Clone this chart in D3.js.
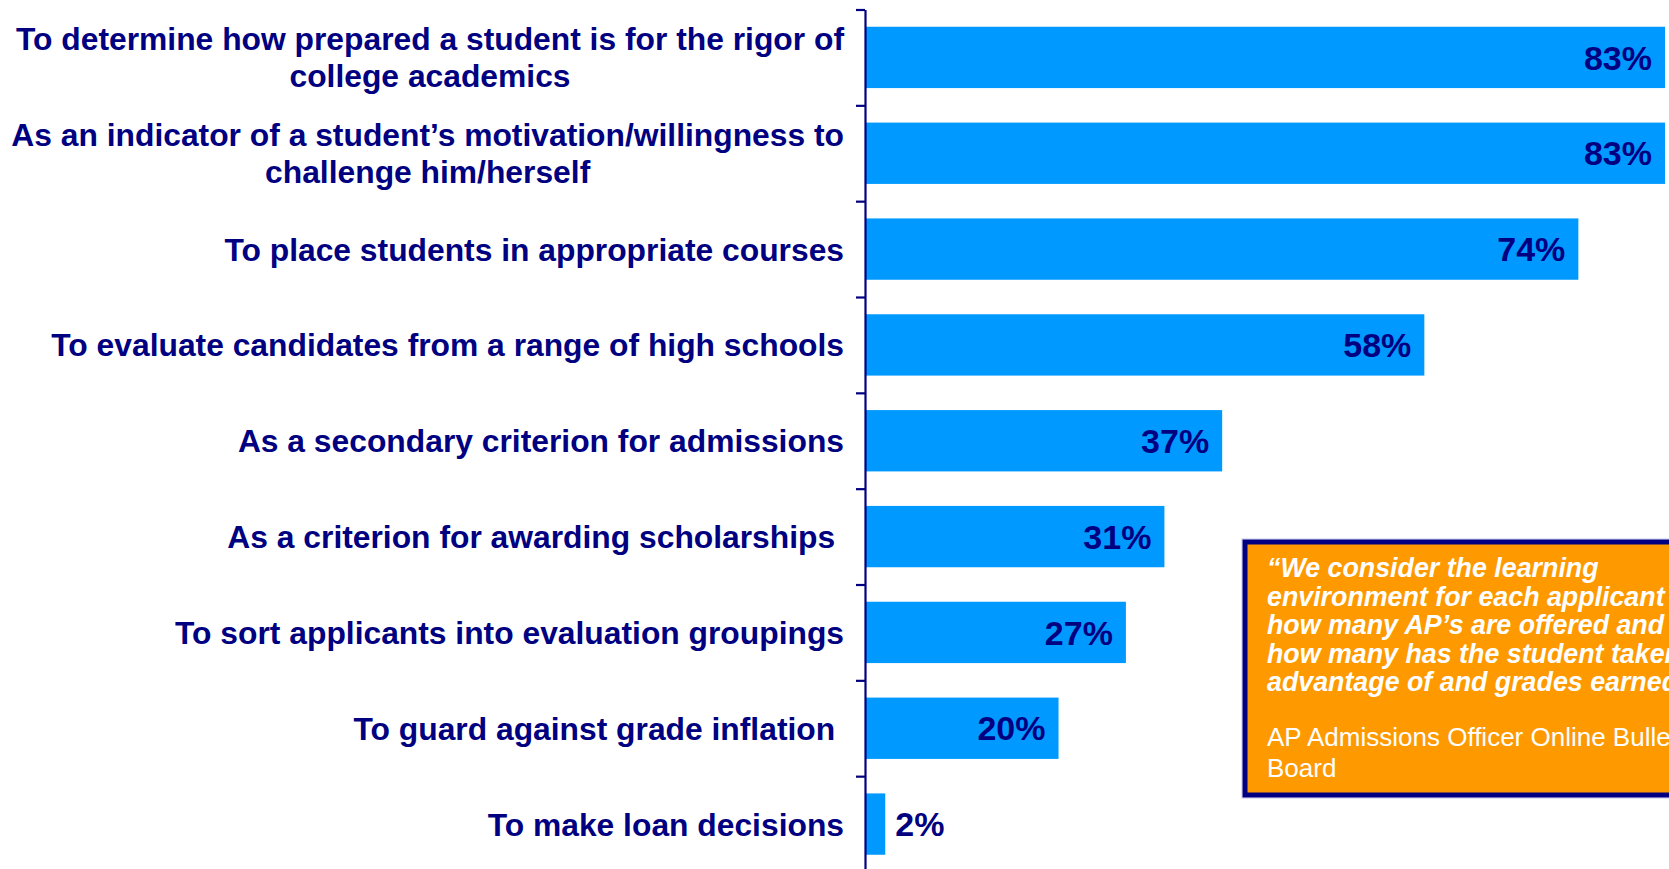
<!DOCTYPE html>
<html>
<head>
<meta charset="utf-8">
<script src="https://cdn.jsdelivr.net/npm/d3@7"></script>
<style>
  body { margin: 0; background: #fff; overflow: hidden; }
  svg { display: block; font-family: "Liberation Sans", Arial, sans-serif; }
</style>
</head>
<body>
<div class="chart"></div>
<script>
const categories = [
  ["To determine how prepared a student is for the rigor of", "college academics"],
  ["As an indicator of a student\u2019s motivation/willingness to", "challenge him/herself"],
  ["To place students in appropriate courses"],
  ["To evaluate candidates from a range of high schools"],
  ["As a secondary criterion for admissions"],
  ["As a criterion for awarding scholarships "],
  ["To sort applicants into evaluation groupings"],
  ["To guard against grade inflation "],
  ["To make loan decisions"]
];
const values = [83, 83, 74, 58, 37, 31, 27, 20, 2];
const quoteLines = [
  "\u201cWe consider the learning",
  "environment for each applicant \u2013",
  "how many AP\u2019s are offered and",
  "how many has the student taken",
  "advantage of and grades earned.\u201d"
];
const sourceLines = ["AP Admissions Officer Online Bulletin", "Board"];

const width = 1669;
const height = 869;
const navy = "#000080";
const barColor = "#0099ff";

const data = categories.map((c, i) => ({ id: i, label: c, value: values[i] }));

const svg = d3.select(".chart")
  .append("svg")
  .attr("width", width)
  .attr("height", height);

const yTop = 9.5, yBottom = 872;

const yScale = d3.scaleBand()
  .domain(data.map(d => d.id))
  .range([yTop, yBottom])
  .paddingInner(0.36)
  .paddingOuter(0.18);

// boundaries between categories, for the ticks
const tickScale = d3.scaleLinear()
  .domain([0, data.length])
  .range([yTop, yBottom]);

const xScale = d3.scaleLinear()
  .domain([0, 83])
  .range([866, 1665]);

// bars
svg.selectAll(".bar")
  .data(data)
  .enter()
  .append("rect")
  .attr("class", "bar")
  .attr("fill", barColor)
  .attr("x", xScale(0))
  .attr("y", d => yScale(d.id))
  .attr("width", d => xScale(d.value) - xScale(0))
  .attr("height", yScale.bandwidth());

// axis
const axis = svg.append("g")
  .attr("class", "axis y-axis")
  .attr("transform", `translate(${xScale(0) - 1},0)`)
  .call(d3.axisLeft(tickScale)
    .tickValues(d3.range(0, data.length + 1))
    .tickSize(9)
    .tickSizeOuter(0)
    .tickFormat(""));
axis.select(".domain").attr("stroke", navy).attr("stroke-width", 2.2);
axis.selectAll(".tick line").attr("stroke", navy).attr("stroke-width", 2.2);

// category labels
const labelX = 844;
const labels = svg.selectAll(".cat-label")
  .data(data)
  .enter()
  .append("text")
  .attr("class", "cat-label")
  .attr("text-anchor", "end")
  .attr("fill", navy)
  .attr("font-weight", "bold")
  .attr("font-size", "31.8px")
  .style("white-space", "pre")
  .attr("transform", d => `translate(${labelX}, ${yScale(d.id) + yScale.bandwidth() / 2})`);

labels.each(function(d) {
  const lineH = 37;
  const n = d.label.length;
  d3.select(this).selectAll("tspan")
    .data(d.label)
    .enter()
    .append("tspan")
    .attr("x", 0)
    .attr("y", (t, i) => (i - (n - 1) / 2) * lineH)
    .attr("dy", "0.36em")
    .text(t => t);
});
// second lines of the wrapped labels are centred under the first line
labels.filter(d => d.label.length > 1).each(function() {
  const spans = d3.select(this).selectAll("tspan").nodes();
  const w0 = spans[0].getComputedTextLength();
  d3.select(spans[1]).attr("text-anchor", "middle").attr("x", -w0 / 2);
});

// value labels
svg.selectAll(".val-label")
  .data(data)
  .enter()
  .append("text")
  .attr("class", "val-label")
  .attr("fill", navy)
  .attr("font-weight", "bold")
  .attr("font-size", "34px")
  .attr("text-anchor", d => d.value > 10 ? "end" : "start")
  .attr("x", d => d.value > 10 ? xScale(d.value) - 13 : xScale(d.value) + 10)
  .attr("y", d => yScale(d.id) + yScale.bandwidth() / 2)
  .attr("dy", "0.36em")
  .text(d => d.value + "%");

// quote box
const box = svg.append("g").attr("class", "quote");
box.append("rect")
  .attr("x", 1242).attr("y", 539)
  .attr("width", 480).attr("height", 259)
  .attr("fill", "none")
  .attr("stroke", "#c8c8f0")
  .attr("stroke-width", 1);
box.append("rect")
  .attr("x", 1245).attr("y", 542)
  .attr("width", 480).attr("height", 253)
  .attr("fill", "#ff9900")
  .attr("stroke", navy)
  .attr("stroke-width", 5);

box.selectAll(".q-line")
  .data(quoteLines)
  .enter()
  .append("text")
  .attr("class", "q-line")
  .attr("x", 1267)
  .attr("y", (d, i) => 577 + i * 28.5)
  .attr("fill", "#fff")
  .attr("font-weight", "bold")
  .attr("font-style", "italic")
  .attr("font-size", "26.8px")
  .text(d => d);

box.selectAll(".s-line")
  .data(sourceLines)
  .enter()
  .append("text")
  .attr("class", "s-line")
  .attr("x", 1267)
  .attr("y", (d, i) => 746 + i * 31)
  .attr("fill", "#fff")
  .attr("font-size", "26px")
  .text(d => d);
</script>
</body>
</html>
